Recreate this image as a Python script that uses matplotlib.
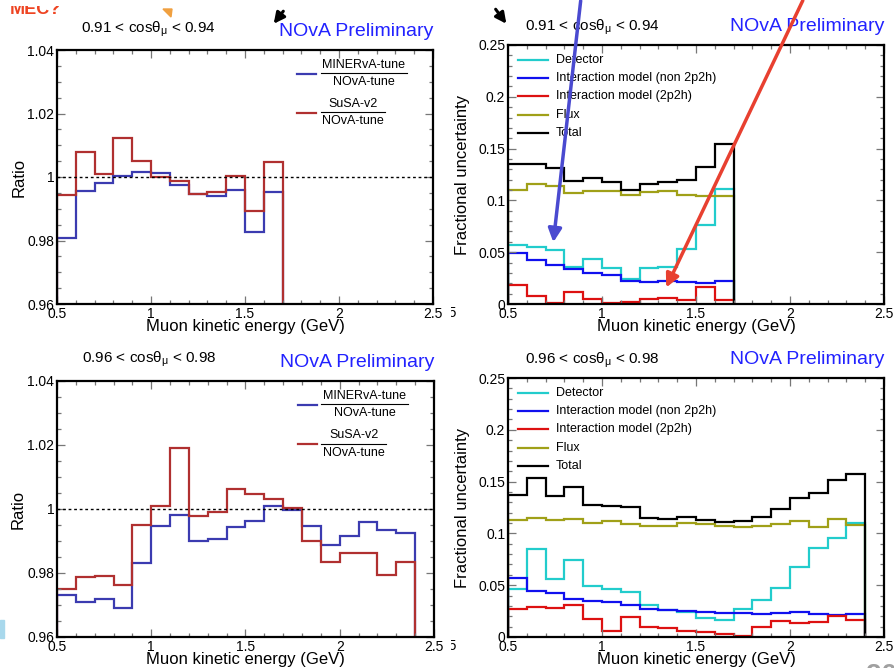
import numpy as np
import matplotlib
matplotlib.use('Agg')
import matplotlib.pyplot as plt
from matplotlib.lines import Line2D
from matplotlib.patches import FancyArrowPatch, Polygon, Rectangle
from matplotlib.ticker import MultipleLocator, FuncFormatter
from matplotlib.transforms import Bbox, TransformedBbox

plt.rcParams['font.family'] = ['Liberation Sans', 'DejaVu Sans']
plt.rcParams['mathtext.fontset'] = 'custom'
plt.rcParams['mathtext.rm'] = 'Liberation Sans'
plt.rcParams['mathtext.it'] = 'Liberation Sans:italic'

# bin edges (GeV)
edges_a = np.round(np.arange(0.5, 1.71, 0.1), 2)   # 0.91 < cos < 0.94
edges_b = np.round(np.arange(0.5, 2.41, 0.1), 2)   # 0.96 < cos < 0.98

# ratio to NOvA-tune
minerva_a = [0.9808, 0.9957, 0.9980, 1.0002, 1.0017, 1.0013, 0.9975, 0.9948, 0.9939, 0.9960, 0.9826, 0.9952]
susa_a = [0.9943, 1.0079, 1.0008, 1.0122, 1.0051, 1.0001, 0.9986, 0.9945, 0.9952, 1.0004, 0.9892, 1.0048]
minerva_b = [0.9730, 0.9709, 0.9719, 0.9691, 0.9832, 0.9948, 0.9982, 0.9899, 0.9905, 0.9945,
             0.9963, 1.0009, 0.9998, 0.9946, 0.9888, 0.9916, 0.9958, 0.9935, 0.9924]
susa_b = [0.9750, 0.9788, 0.9791, 0.9761, 0.9949, 1.0010, 1.0190, 0.9978, 0.9992, 1.0061,
          1.0047, 1.0032, 1.0003, 0.9901, 0.9835, 0.9864, 0.9861, 0.9793, 0.9835]

# fractional uncertainties
detector_a = [0.0566, 0.0547, 0.0521, 0.0360, 0.0438, 0.0351, 0.0245, 0.0351, 0.0354, 0.0528, 0.0760, 0.1113]
xsec_a = [0.0496, 0.0425, 0.0373, 0.0335, 0.0296, 0.0280, 0.0222, 0.0216, 0.0222, 0.0216, 0.0203, 0.0219]
mec_a = [0.0183, 0.0077, 0.0013, 0.0113, 0.0048, 0.0006, 0.0016, 0.0045, 0.0055, 0.0035, 0.0167, 0.0042]
flux_a = [0.1100, 0.1155, 0.1139, 0.1075, 0.1094, 0.1088, 0.1055, 0.1084, 0.1094, 0.1055, 0.1046, 0.1046]
total_a = [0.1351, 0.1351, 0.1310, 0.1187, 0.1216, 0.1178, 0.1100, 0.1162, 0.1178, 0.1197, 0.1319, 0.1544]

detector_b = [0.0462, 0.0850, 0.0562, 0.0748, 0.0497, 0.0462, 0.0433, 0.0305, 0.0263, 0.0238,
              0.0183, 0.0160, 0.0270, 0.0353, 0.0475, 0.0674, 0.0857, 0.0956, 0.1098]
xsec_b = [0.0568, 0.0446, 0.0427, 0.0366, 0.0343, 0.0334, 0.0311, 0.0273, 0.0260, 0.0247,
          0.0238, 0.0228, 0.0228, 0.0221, 0.0231, 0.0238, 0.0221, 0.0212, 0.0225]
mec_b = [0.0270, 0.0289, 0.0279, 0.0305, 0.0170, 0.0055, 0.0189, 0.0099, 0.0087, 0.0061,
         0.0045, 0.0032, 0.0006, 0.0096, 0.0151, 0.0135, 0.0141, 0.0205, 0.0167]
flux_b = [0.1130, 0.1152, 0.1130, 0.1143, 0.1101, 0.1123, 0.1094, 0.1072, 0.1075, 0.1101,
          0.1091, 0.1072, 0.1066, 0.1072, 0.1094, 0.1120, 0.1066, 0.1136, 0.1082]
total_b = [0.1374, 0.1531, 0.1357, 0.1451, 0.1271, 0.1261, 0.1252, 0.1149, 0.1139, 0.1162,
           0.1133, 0.1107, 0.1123, 0.1159, 0.1232, 0.1341, 0.1393, 0.1515, 0.1569]

unc_labels = ['Detector', 'Interaction model (non 2p2h)', 'Interaction model (2p2h)', 'Flux', 'Total']
unc_colors = ['#22cccc', '#1010ee', '#dd1111', '#a0a018', '#000000']

W, H = 895, 668
fig = plt.figure(figsize=(W / 100, H / 100), dpi=100)


def px_box(x0, y0, x1, y1):
    return [x0 / W, 1 - y1 / H, (x1 - x0) / W, (y1 - y0) / H]


def fx(x):
    return x / W


def fy(y):
    return 1 - y / H


def clip_px(artist, x0, y0, x1, y1):
    # clip an artist to a pixel rectangle of the figure
    bb = Bbox.from_extents(fx(x0), fy(y1), fx(x1), fy(y0))
    artist.set_clip_box(TransformedBbox(bb, fig.transFigure))
    artist.set_clip_on(True)


plain = FuncFormatter(lambda v, p: f'{v:g}')


def style_axes(ax, ymin, ymax, ymaj, ymin_step):
    ax.set_xlim(0.5, 2.5)
    ax.set_ylim(ymin, ymax)
    ax.xaxis.set_major_locator(MultipleLocator(0.5))
    ax.xaxis.set_minor_locator(MultipleLocator(0.1))
    ax.yaxis.set_major_locator(MultipleLocator(ymaj))
    ax.yaxis.set_minor_locator(MultipleLocator(ymin_step))
    ax.xaxis.set_major_formatter(plain)
    ax.yaxis.set_major_formatter(plain)
    ax.tick_params(which='both', direction='in', top=True, right=True, color='#777777',
                   labelsize=10, pad=2)
    ax.tick_params(which='major', length=6, width=0.9)
    ax.tick_params(which='minor', length=3, width=0.9)
    for s in ax.spines.values():
        s.set_linewidth(1.6)
    ax.set_xlabel('Muon kinetic energy (GeV)', fontsize=12, labelpad=-1)


def ratio_panel(box, edges, minerva, susa, title):
    ax = fig.add_axes(box)
    style_axes(ax, 0.96, 1.04, 0.02, 0.005)
    ax.axhline(1.0, color='black', lw=1.0, ls=(0, (2, 2)))
    ax.stairs(minerva, edges, baseline=0.96, color='#3b3bb0', lw=1.6)
    ax.stairs(susa, edges, baseline=0.96, color='#b03030', lw=1.6)
    ax.set_ylabel('Ratio', fontsize=12)
    ax.yaxis.set_label_coords(-0.082, 0.5)
    ax.text(0.065, 1.045, title, transform=ax.transAxes, fontsize=11, va='bottom')
    ax.text(1.0, 1.04, 'NOvA Preliminary', transform=ax.transAxes, fontsize=14,
            color='#2222ff', ha='right', va='bottom')
    # fraction-style legend
    for yl, num, xr, col in [(0.906, 'MINERvA-tune', 0.93, '#3b3bb0'),
                             (0.752, 'SuSA-v2', 0.873, '#b03030')]:
        ax.add_line(Line2D([0.638, 0.689], [yl, yl], transform=ax.transAxes, color=col, lw=1.6))
        ax.add_line(Line2D([0.701, xr], [yl + 0.003, yl + 0.003], transform=ax.transAxes,
                           color='black', lw=0.8))
        xc = (0.701 + xr) / 2
        ax.text(xc, yl + 0.012, num, transform=ax.transAxes, fontsize=9,
                ha='center', va='bottom')
        ax.text(xc, yl - 0.008, 'NOvA-tune', transform=ax.transAxes, fontsize=9,
                ha='center', va='top')
    return ax


def unc_panel(box, edges, series, title):
    ax = fig.add_axes(box)
    style_axes(ax, 0.0, 0.25, 0.05, 0.01)
    for vals, col in zip(series, unc_colors):
        ax.stairs(vals, edges, baseline=0.0, color=col, lw=1.6)
    ax.set_ylabel('Fractional uncertainty', fontsize=12)
    ax.yaxis.set_label_coords(-0.101, 0.5)
    ax.text(0.045, 1.03, title, transform=ax.transAxes, fontsize=11, va='bottom')
    ax.text(1.0, 1.04, 'NOvA Preliminary', transform=ax.transAxes, fontsize=14,
            color='#2222ff', ha='right', va='bottom')
    for i, (lab, col) in enumerate(zip(unc_labels, unc_colors)):
        yl = 0.942 - i * 0.0703
        ax.add_line(Line2D([0.026, 0.106], [yl, yl], transform=ax.transAxes, color=col, lw=1.6))
        ax.text(0.127, yl, lab, transform=ax.transAxes, fontsize=9, va='center')
    return ax


title_a = r'0.91 < cosθ$_{\mathrm{μ}}$ < 0.94'
title_b = r'0.96 < cosθ$_{\mathrm{μ}}$ < 0.98'

ratio_panel(px_box(57, 50, 433, 304), edges_a, minerva_a, susa_a, title_a)
unc_panel(px_box(508, 45, 884, 304), edges_a,
          [detector_a, xsec_a, mec_a, flux_a, total_a], title_a)
ratio_panel(px_box(57, 381, 434, 637), edges_b, minerva_b, susa_b, title_b)
unc_panel(px_box(508, 378, 884, 637), edges_b,
          [detector_b, xsec_b, mec_b, flux_b, total_b], title_b)

# slide annotations
fig.add_artist(FancyArrowPatch((fx(581), fy(-2)), (fx(553), fy(245)), transform=fig.transFigure,
                               arrowstyle='-|>', mutation_scale=20, lw=2.5, color='#4a4ad0'))
fig.add_artist(FancyArrowPatch((fx(804), fy(-2)), (fx(665), fy(290)), transform=fig.transFigure,
                               arrowstyle='-|>', mutation_scale=20, lw=2.5, color='#e84030'))
fig.add_artist(FancyArrowPatch((fx(285), fy(9)), (fx(272), fy(26)), transform=fig.transFigure,
                               arrowstyle='-|>', mutation_scale=16, lw=2.2, color='black'))
fig.add_artist(FancyArrowPatch((fx(494), fy(7)), (fx(508), fy(26)), transform=fig.transFigure,
                               arrowstyle='-|>', mutation_scale=16, lw=2.2, color='black'))
mec = fig.text(fx(10), fy(14), 'MEC?', fontsize=13, fontweight='bold', color='#ee4422',
               va='baseline')
clip_px(mec, 0, 6, 200, 20)
fig.add_artist(Polygon([(fx(163), fy(9)), (fx(172), fy(9)), (fx(171), fy(17))],
                       closed=True, transform=fig.transFigure, color='#f0a040'))
fig.add_artist(Rectangle((fx(0), fy(638)), fx(4), 18 / H, transform=fig.transFigure,
                         color='#a8d8ec'))
fig.text(fx(866), fy(683), '20', fontsize=20, fontweight='bold', color='#a0a0a0', va='baseline')
for yb in (317, 650):
    t = fig.text(fx(457), fy(yb), '2.5', fontsize=10, ha='right', va='baseline')
    clip_px(t, 451, yb - 15, 462, yb + 5)

fig.savefig('out.png', dpi=100)
